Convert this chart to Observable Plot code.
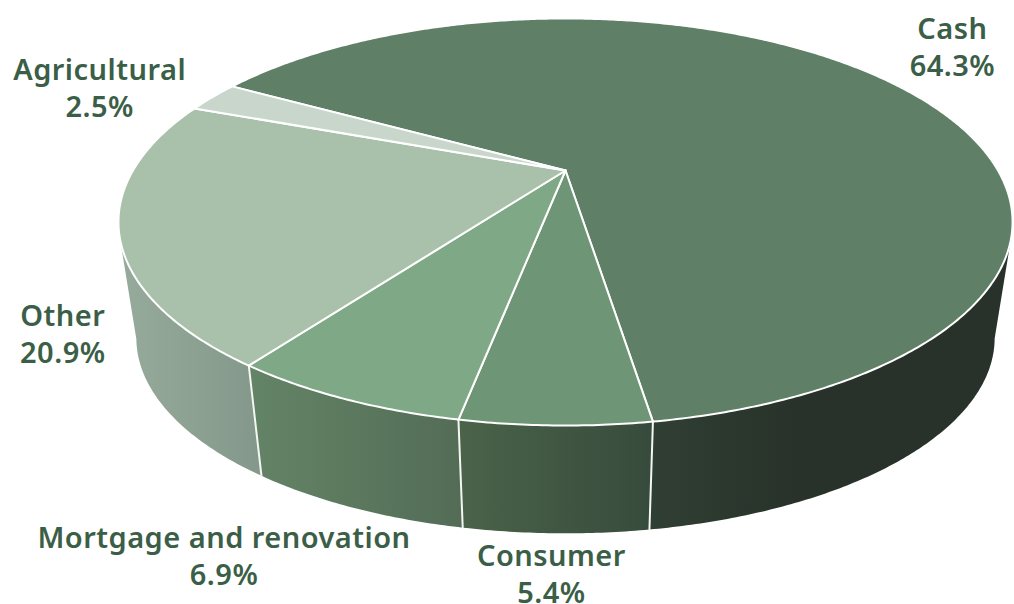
<!DOCTYPE html>
<html>
<head>
<meta charset="utf-8">
<script src="https://cdn.jsdelivr.net/npm/d3@7"></script>
<script src="https://cdn.jsdelivr.net/npm/@observablehq/plot@0.6"></script>
<style>html,body{margin:0;padding:0;background:#fff}svg{display:block}</style>
</head>
<body>
<div id="chart"></div>
<script>
const names  = ["Cash", "Consumer", "Mortgage and renovation", "Other", "Agricultural"];
const shares = [64.3, 5.4, 6.9, 20.9, 2.5];

const topColors  = ["#5f8066", "#6f9577", "#7fa886", "#a9c1ab", "#c8d6cb"];
const wallStops  = [["#303f33", "#28322a"], ["#4a6349", "#374b3c"], ["#648466", "#536c56"], ["#96ab9b", "#83988a"], ["#c8d6cb", "#c8d6cb"]];
const labelDx = [75, -4, -120, -56, -113];
const labelDy = [-31, 147, 156, 103, -10];

// Perspective disc
const W = 1014, H = 604;
const cx = 565, apexY = 170, A = 432.5, B = 190.5, k = 0.253;
const startDeg = 299.8, floorShift = 118, floorScale = 0.96;
const project = (deg, floor) => {
  const t = deg * Math.PI / 180, u = Math.sin(t), v = -Math.cos(t), w = 1 - k * v;
  const s = floor ? floorScale : 1;
  return {x: cx + s * A * u / w, y: apexY + (floor ? floorShift : 0) + s * B * v / w, v};
};
const arcDegs = (a, b) => { const out = []; for (let d = a; d < b; d += 0.5) out.push(d); out.push(b); return out; };

let cum = startDeg;
const slices = names.map((name, i) => {
  const a = cum, b = cum + shares[i] * 3.6; cum = b;
  return {name, share: shares[i], a, b, i};
});

const topFace = s => [{x: cx, y: apexY}, ...arcDegs(s.a, s.b).map(d => project(d, false)), {x: cx, y: apexY}];
const wallFace = s => {
  const degs = arcDegs(s.a, s.b);
  const upper = degs.map(d => project(d, false)).filter(p => p.v >= 0.3);
  const lower = degs.map(d => project(d, true)).filter(p => p.v >= 0.25).reverse();
  return upper.length && lower.length ? [...upper, ...lower, upper[0]] : [];
};
const seams = slices.slice(0, 3).map(s => [project(s.b, false), project(s.b, true)]);

const defs = () => {
  const svg = d3.create("svg:defs");
  wallStops.forEach((stops, i) => {
    const g = svg.append("linearGradient").attr("id", "wall" + i).attr("x1", 0).attr("x2", 1).attr("y1", 0).attr("y2", 0);
    g.append("stop").attr("offset", "0%").attr("stop-color", stops[0]);
    g.append("stop").attr("offset", i === 0 ? "40%" : "100%").attr("stop-color", stops[1]);
  });
  return svg.node();
};

const fmt = d3.format(".1f");
const rimMid = slices.map(s => ({...project((s.a + s.b) / 2, false), text: `${s.name}\n${fmt(s.share)}%`, i: s.i}));

const chart = Plot.plot({
  width: W, height: H, margin: 0,
  x: {domain: [0, W], range: [0, W], axis: null},
  y: {domain: [0, H], range: [0, H], axis: null},
  style: {background: "#fff", letterSpacing: "0.48px"},
  marks: [
    defs,
    ...slices.map(s => Plot.line(wallFace(s), {x: "x", y: "y", fill: `url(#wall${s.i})`, stroke: "none"})),
    ...seams.map(seam => Plot.line(seam, {x: "x", y: "y", stroke: "#f4f6f4", strokeWidth: 2})),
    ...slices.map(s => Plot.line(topFace(s), {x: "x", y: "y", fill: topColors[s.i], stroke: "#ffffff", strokeWidth: 2, strokeLinejoin: "round"})),
    ...rimMid.map(m => Plot.text([m], {
      x: "x", y: "y", text: "text", dx: labelDx[m.i], dy: labelDy[m.i],
      fill: "#3b5e47", fontFamily: "Noto Sans", fontWeight: 600, fontSize: 29, lineHeight: 1.28, textAnchor: "middle"
    }))
  ]
});
document.getElementById("chart").append(chart);
</script>
</body>
</html>
